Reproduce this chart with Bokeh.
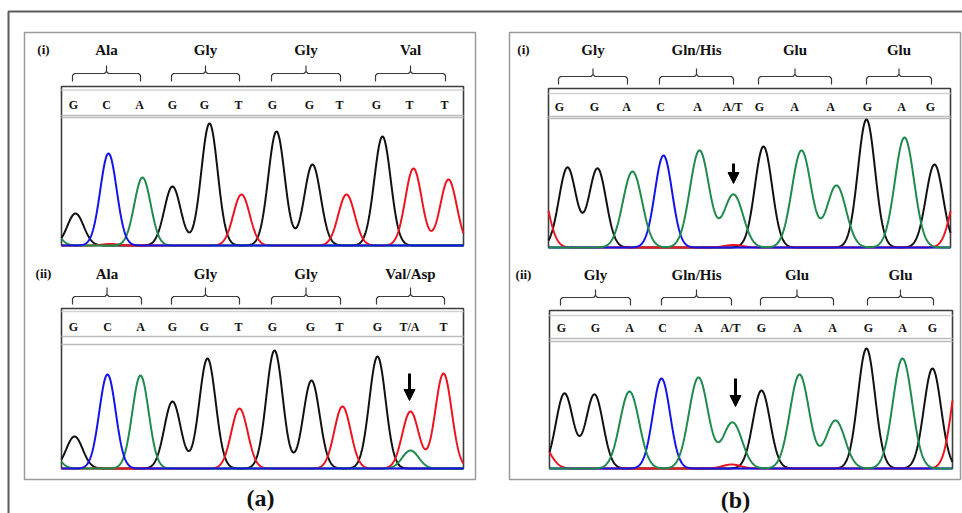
import numpy as np
from bokeh.plotting import figure
from bokeh.models import Range1d, GridBox, Arrow, NormalHead
from bokeh.core.properties import value
from bokeh.embed import file_html
from bokeh.resources import INLINE

SERIF = "Liberation Serif"

# ---------------- data (peak positions in scan units from box left, heights in signal units) -------------
# (a)(i)
a1_codons = ["Ala", "Gly", "Gly", "Val"]
a1_bases = ["G", "C", "A", "G", "G", "T", "G", "G", "T", "G", "T", "T"]
a1_base_pos = [12, 45, 78, 111, 143, 177, 211, 248, 278, 315, 348, 383]
a1_G_pos = [14, 111, 148, 215, 251, 321]
a1_G_h = [32, 59, 122, 114, 81, 109]
a1_C_pos = [47]
a1_C_h = [92]
a1_A_pos = [-12, 81]
a1_A_h = [20, 68]
a1_T_pos = [49, 180, 285, 352, 387]
a1_T_h = [1.5, 51, 51, 77, 66]

# (a)(ii)
a2_codons = ["Ala", "Gly", "Gly", "Val/Asp"]
a2_bases = ["G", "C", "A", "G", "G", "T", "G", "G", "T", "G", "T/A", "T"]
a2_base_pos = [12, 46, 79, 111, 143, 177, 211, 249, 278, 316, 348, 382]
a2_G_pos = [13, 111, 146, 213, 250, 316]
a2_G_h = [32, 67, 110, 118, 88, 112]
a2_C_pos = [46]
a2_C_h = [94]
a2_A_pos = [-12, 79, 349]
a2_A_h = [20, 93, 18]
a2_T_pos = [178, 281, 349, 382]
a2_T_h = [60, 62, 57, 95]
a2_arrow = [348, 95, 68]   # x, top, tip

# (b)(i)
b1_codons = ["Gly", "Gln/His", "Glu", "Glu"]
b1_bases = ["G", "G", "A", "C", "A", "A/T", "G", "A", "A", "G", "A", "G"]
b1_base_pos = [11, 46, 78, 112, 149, 184, 211, 246, 282, 319, 353, 382]
b1_G_pos = [19, 49, 215, 318, 386]
b1_G_h = [80, 79, 101, 128, 83]
b1_C_pos = [115]
b1_C_h = [92]
b1_A_pos = [84, 151, 185, 253, 288, 356]
b1_A_h = [76, 97, 53, 97, 62, 110]
b1_T_pos = [-10, 185, 412]
b1_T_h = [68, 2.5, 67]
b1_arrow = [185, 84, 64]

# (b)(ii)
b2_codons = ["Gly", "Gln/His", "Glu", "Glu"]
b2_bases = ["G", "G", "A", "C", "A", "A/T", "G", "A", "A", "G", "A", "G"]
b2_base_pos = [12, 46, 80, 113, 149, 181, 212, 248, 283, 319, 353, 383]
b2_G_pos = [15, 45, 212, 317, 383]
b2_G_h = [75, 74, 78, 120, 100]
b2_C_pos = [112]
b2_C_h = [90]
b2_A_pos = [80, 149, 183, 250, 286, 353]
b2_A_h = [77, 91, 46, 94, 48, 110]
b2_T_pos = [-8, 182, 412]
b2_T_h = [24, 4, 112]
b2_arrow = [186, 90, 62]

COL = {"G": "#111111", "A": "#1f8a4b", "T": "#ea1520", "C": "#1414e6"}


def trace(x, pos, h, s):
    y = np.zeros_like(x)
    for c, hh in zip(pos, h):
        y += hh * np.exp(-((x - c) ** 2) / (2.0 * s * s))
    return y


def panel(width, height, xr, yr, W, L, bases, base_pos, codons, peaks, sig, order, arrow=None):
    p = figure(width=width, height=height, x_range=Range1d(*xr), y_range=Range1d(*yr),
               output_backend="svg", toolbar_location=None, min_border=0,
               x_axis_location=None, y_axis_location=None)
    p.grid.visible = False
    p.outline_line_color = None
    p.background_fill_color = None
    p.border_fill_color = None

    # box and base-call band
    p.quad(left=[0], right=[W], bottom=[0], top=[L["box_top"]], fill_color=None,
           line_color="#3c3c3c", line_width=1.6)
    p.segment(x0=[0], x1=[W], y0=[L["inner"]], y1=[L["inner"]], line_color="#d2d2d2", line_width=1.5)
    p.segment(x0=[0, 0], x1=[W, W], y0=list(L["band"]), y1=list(L["band"]),
              line_color="#bcbcbc", line_width=1.3)

    # traces
    x = np.linspace(0, W, 900)
    for b in order:
        pos, h = peaks[b]
        p.line(x, trace(x, pos, h, sig[b]), line_color=COL[b], line_width=2)

    # base letters
    p.text(x=base_pos, y=[L["letters"]] * len(base_pos), text=bases,
           text_font=value(SERIF), text_font_style="bold", text_font_size="12px",
           text_align="center", text_baseline="middle", text_color="#111111")

    # codon braces and names
    xs, ys, mids = [], [], []
    for k in range(len(codons)):
        x0 = base_pos[3 * k] - 1
        x1 = base_pos[3 * k + 2] + 1
        xm = 0.5 * (x0 + x1)
        mids.append(xm)
        yh, ye, yn = L["brace"]
        r = 2.0
        xs.append([x0, x0, x0 + r, xm - r, xm, xm, xm, xm + r, x1 - r, x1, x1])
        ys.append([ye, yh - r, yh, yh, yh + r, yn, yh + r, yh, yh, yh - r, ye])
    p.multi_line(xs, ys, line_color="#3a3a3a", line_width=1.2)
    p.text(x=mids, y=[L["codon"]] * len(mids), text=codons,
           text_font=value(SERIF), text_font_style="bold", text_font_size="15px",
           text_align="center", text_baseline="middle", text_color="#111111")

    if arrow is not None:
        ax, atop, atip = arrow
        p.add_layout(Arrow(end=NormalHead(size=11, fill_color="black", line_color="black"),
                           x_start=ax, y_start=atop, x_end=ax, y_end=atip,
                           line_width=3, line_color="black"))
    return p


SIG_A = {"G": 8.2, "A": 8.2, "T": 8.2, "C": 8.2}
SIG_B = {"G": 8.6, "A": 9.6, "T": 9.0, "C": 8.6}

La1 = dict(box_top=159, inner=155.5, letters=141, band=(130, 128), brace=(172, 164, 180), codon=196)
La2 = dict(box_top=160, inner=157, letters=142, band=(132, 124), brace=(172, 164, 181), codon=195)
Lb1 = dict(box_top=159, inner=154, letters=141, band=(131, 129), brace=(171, 163, 179), codon=198)
Lb2 = dict(box_top=158, inner=153, letters=141, band=(130, 127), brace=(171, 163, 179), codon=194)

pa1 = panel(415, 212, (-6, 409), (-5, 207), 402, La1, a1_bases, a1_base_pos, a1_codons,
            {"G": (a1_G_pos, a1_G_h), "C": (a1_C_pos, a1_C_h), "A": (a1_A_pos, a1_A_h), "T": (a1_T_pos, a1_T_h)},
            SIG_A, ["G", "T", "A", "C"])
pa2 = panel(415, 211, (-6, 409), (-3, 208), 402, La2, a2_bases, a2_base_pos, a2_codons,
            {"G": (a2_G_pos, a2_G_h), "C": (a2_C_pos, a2_C_h), "A": (a2_A_pos, a2_A_h), "T": (a2_T_pos, a2_T_h)},
            SIG_A, ["G", "T", "A", "C"], a2_arrow)
pb1 = panel(416, 212, (-6, 410), (-3, 209), 402, Lb1, b1_bases, b1_base_pos, b1_codons,
            {"G": (b1_G_pos, b1_G_h), "C": (b1_C_pos, b1_C_h), "A": (b1_A_pos, b1_A_h), "T": (b1_T_pos, b1_T_h)},
            SIG_B, ["G", "T", "C", "A"], b1_arrow)
pb2 = panel(416, 211, (-7, 409), (-3, 208), 403, Lb2, b2_bases, b2_base_pos, b2_codons,
            {"G": (b2_G_pos, b2_G_h), "C": (b2_C_pos, b2_C_h), "A": (b2_A_pos, b2_A_h), "T": (b2_T_pos, b2_T_h)},
            SIG_B, ["G", "T", "C", "A"], b2_arrow)

# ---------------- background canvas: frames and panel labels ----------------
bg = figure(width=962, height=513, x_range=Range1d(0, 962), y_range=Range1d(513, 0),
            output_backend="svg", toolbar_location=None, min_border=0,
            x_axis_location=None, y_axis_location=None)
bg.grid.visible = False
bg.outline_line_color = None
bg.background_fill_color = "white"
bg.border_fill_color = "white"

bg.line([8, 8, 962], [513, 11, 11], line_color="#5a5a5a", line_width=2)
bg.quad(left=[24, 509], right=[475, 960], top=[32, 32], bottom=[479, 479],
        fill_color=None, line_color="#9a9a9a", line_width=1.5)
bg.text(x=[43, 43, 523, 523], y=[49, 273, 49, 274], text=["(i)", "(ii)", "(i)", "(ii)"],
        text_font=value(SERIF), text_font_style="bold", text_font_size="13px",
        text_align="center", text_baseline="middle", text_color="#111111")
bg.text(x=[260, 735], y=[497, 499], text=["(a)", "(b)"],
        text_font=value(SERIF), text_font_style="bold", text_font_size="24px",
        text_align="center", text_baseline="middle", text_color="#111111")

root = GridBox(children=[(bg, 0, 0, 5, 5), (pa1, 1, 1), (pa2, 3, 1), (pb1, 1, 3), (pb2, 3, 3)],
               cols=["55px", "415px", "72px", "416px", "4px"],
               rows=["38px", "212px", "10px", "211px", "42px"])

with open("out.html", "w") as f:
    f.write(file_html(root, INLINE))
